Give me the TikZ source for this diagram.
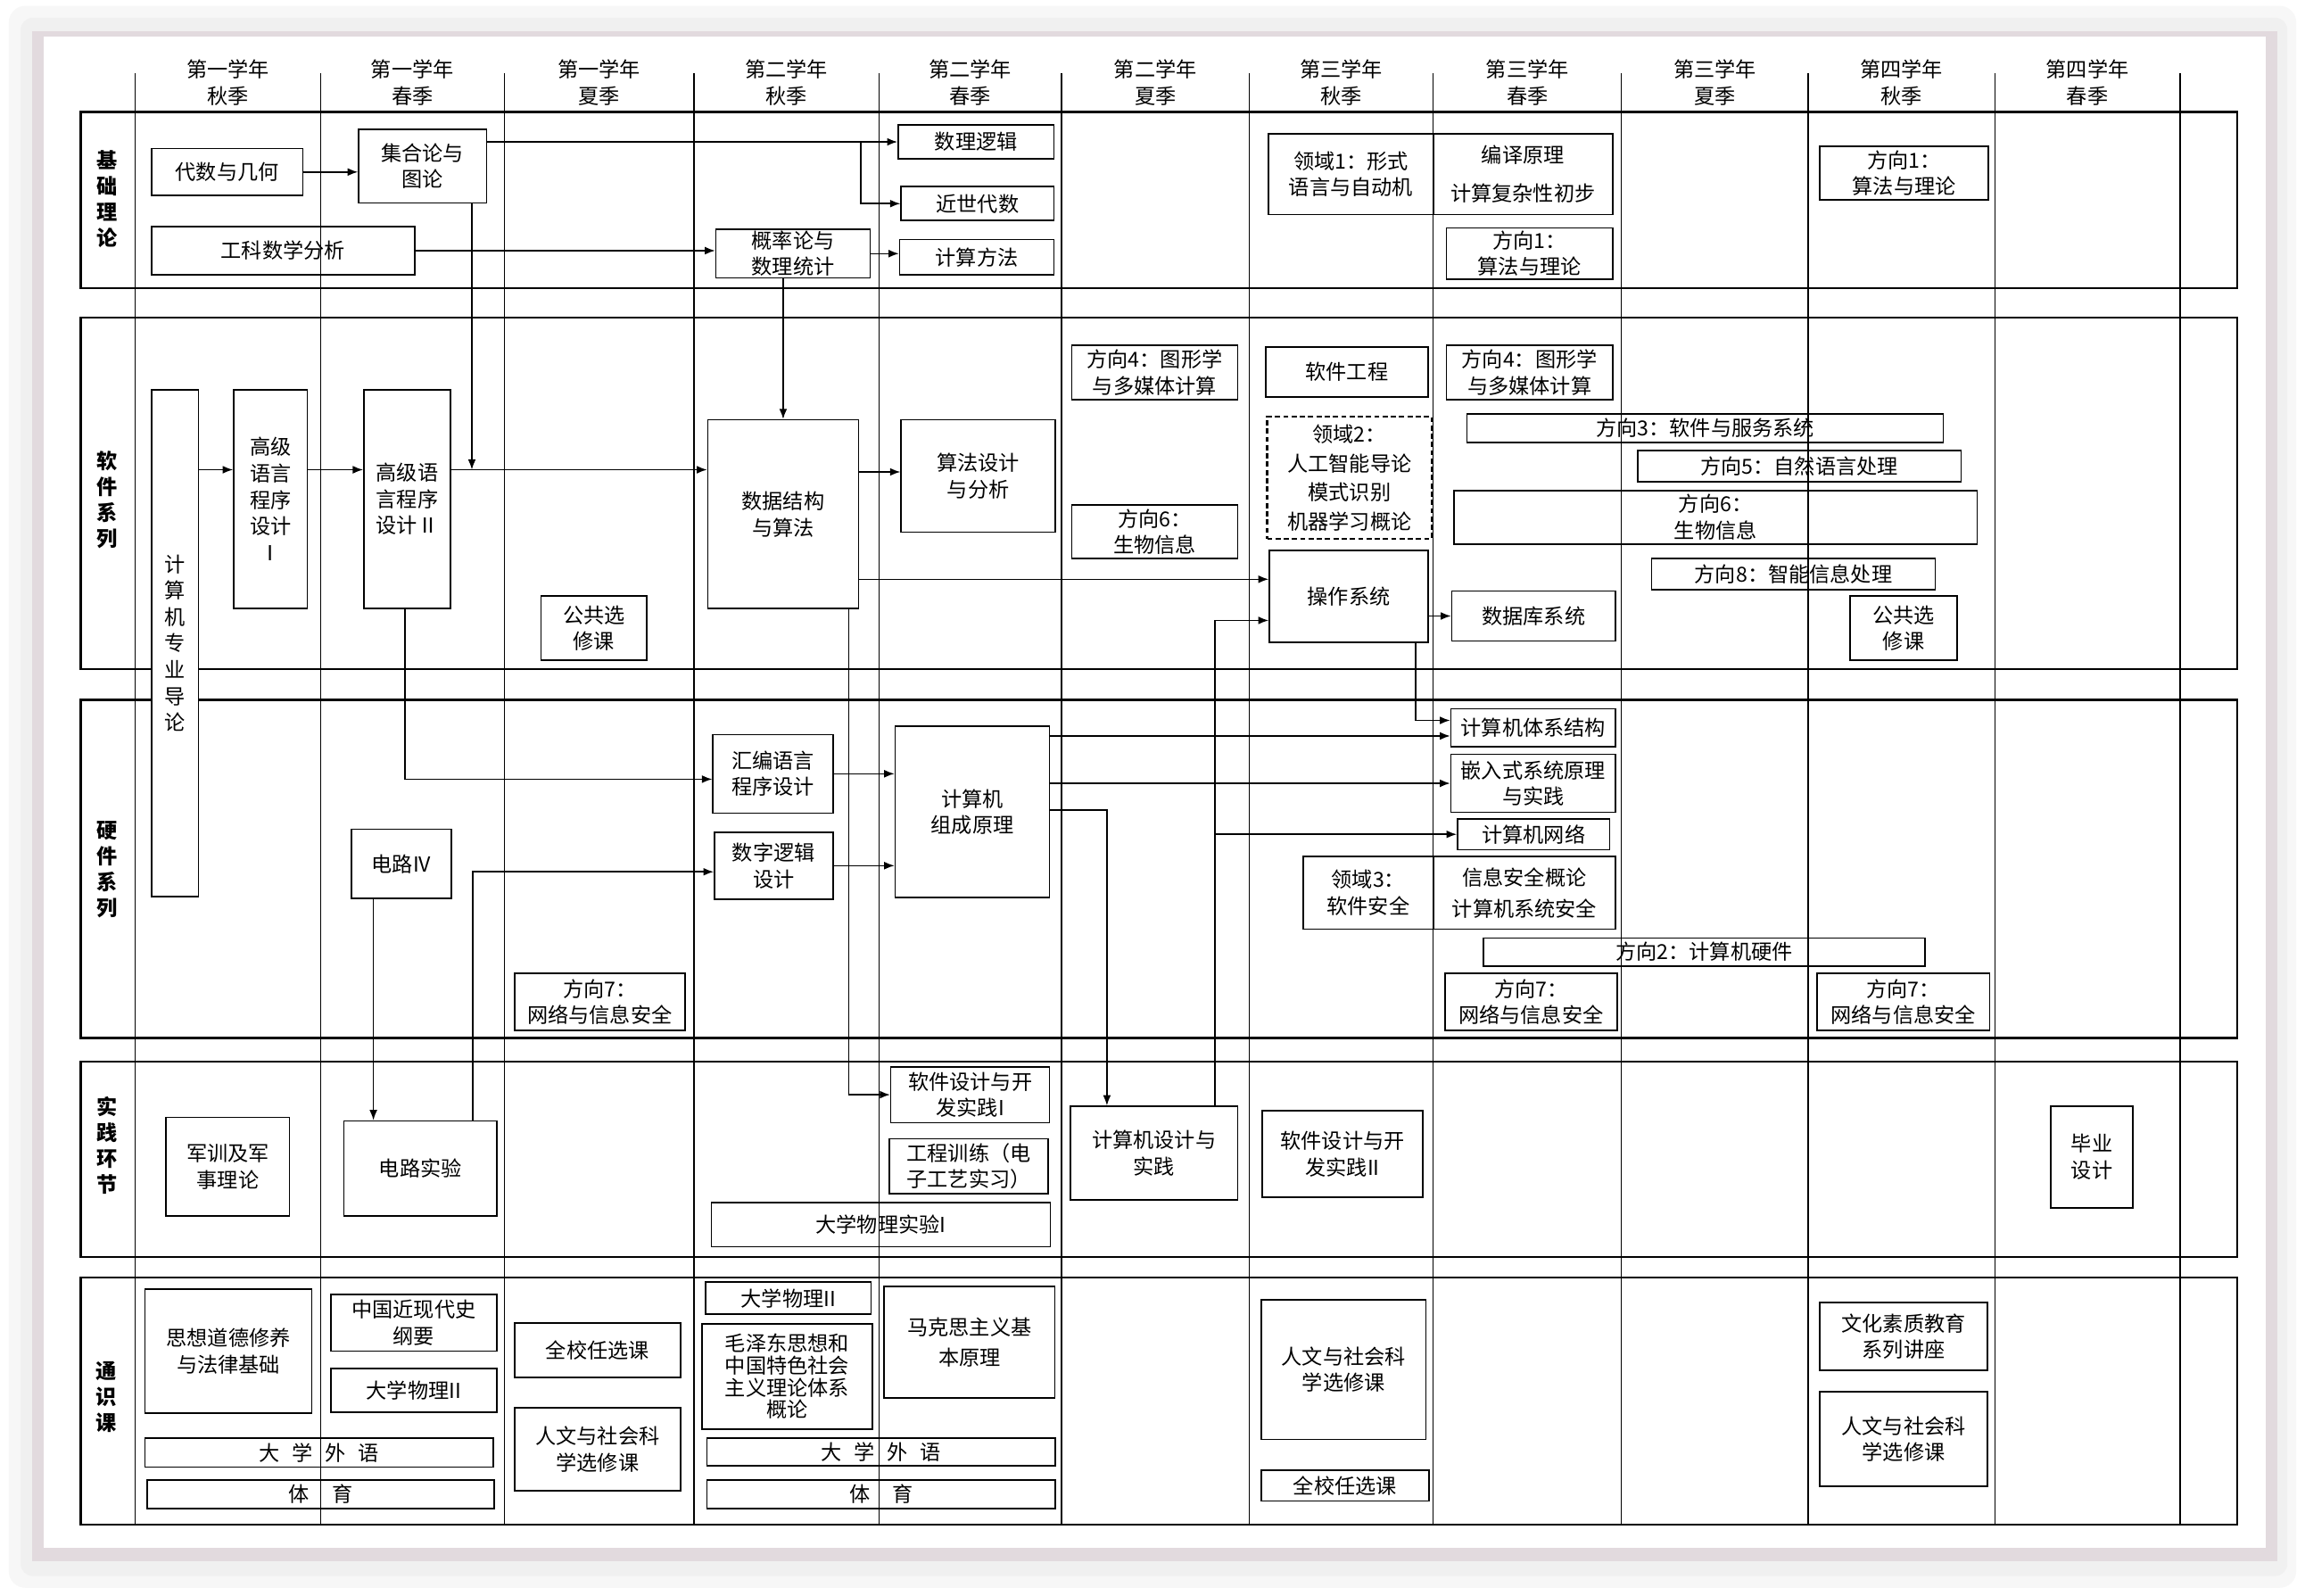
\documentclass[tikz,border=0pt]{standalone}
\usepackage{fontspec}
\setmainfont{Noto Sans CJK SC}
\usetikzlibrary{arrows.meta}
\definecolor{pageedge}{RGB}{226,218,222}

\begin{document}
\begin{tikzpicture}[x=0.025cm, y=-0.025cm, >={Latex[length=5pt,width=3.8pt]},
  every node/.style={font=\fontsize{10}{12.8}\selectfont},
  course/.style 2 args={draw, fill=white, line width=0.7pt, inner sep=0pt, align=center,
    minimum width=#1*0.025cm, minimum height=#2*0.025cm},
  sect/.style={line width=1.1pt},
  colline/.style={line width=0.6pt},
  link/.style={->, line width=0.65pt},
  head/.style={align=center},
  rowlabel/.style={align=center, font=\fontsize{10}{12.5}\selectfont\bfseries}]

\useasboundingbox (0,0) rectangle (1568,1085);
\fill[white] (0,0) rectangle (1568,1085);
\fill[gray!6, rounded corners=8] (6,4) rectangle (1562,1080);
\fill[gray!12, rounded corners=6] (14,12) rectangle (1556,1072);
\fill[pageedge] (22,21) rectangle (1549,1062);
\fill[white] (30,25) rectangle (1541,1053);

% rows
\draw[sect] (55,76) rectangle (1522,196);
\draw[sect] (55,216) rectangle (1522,455);
\draw[sect] (55,476) rectangle (1522,706);
\draw[sect] (55,722) rectangle (1522,855);
\draw[sect] (55,869) rectangle (1522,1037);

% basic theory
\draw (154.5,117) node (Alg) [course={103}{32}] {代数与几何};
\draw (287.5,113) node (SetG) [course={87}{50}] {集合论与\\图论};
\draw (192.5,170.5) node (Ana) [course={179}{33}] {工科数学分析};
\draw (539.5,172.5) node (Prob) [course={105}{33}] {概率论与\\数理统计};
\draw (664,96.5) node (Logic) [course={106}{23}] {数理逻辑};
\draw (665,138.5) node (AbsAlg) [course={104}{23}] {近世代数};
\draw (664.5,175) node (Numer) [course={105}{24}] {计算方法};
\draw (919,118.5) node (DomA) [course={112}{55}] {领域1：形式\\语言与自动机};
\draw (1036,118.5) node (Comp) [course={122}{55}] {编译原理\\[5.5pt]计算复杂性初步};
\draw (1040.5,172.5) node (DirA) [course={113}{35}] {方向1：\\算法与理论};
\draw (1295.3,117.75) node (DirB) [course={114.6}{36.5}] {方向1：\\算法与理论};

% software
\draw (119,437.5) node (Intro) [course={32}{345}] {计\\算\\机\\专\\业\\导\\论};
\draw (184,339.5) node (HllA) [course={50}{149}] {高级\\语言\\程序\\设计\\Ⅰ};
\draw (277,339.5) node (HllB) [course={59}{149}] {高级语\\言程序\\设计Ⅱ};
\draw (532.75,349.8) node (DS) [course={102.5}{128.4}] {数据结构\\与算法};
\draw (665.5,323.8) node (AlgD) [course={105}{76.4}] {算法设计\\与分析};
\draw (785.5,253.5) node (DirC) [course={113}{37}] {方向4：图形学\\与多媒体计算};
\draw (785.5,361.75) node (DirD) [course={113}{36.5}] {方向6：\\生物信息};
\draw (916.25,253) node (SE) [course={110.5}{34}] {软件工程};
\draw (918,325) node (DomB) [course={112}{83}, dash pattern=on 2.5pt off 1.5pt, line width=1pt]
  {领域2：\\[1.2pt]人工智能导论\\[1.2pt]模式识别\\[1.2pt]机器学习概论};
\draw (917.5,405.75) node (OS) [course={108}{62.5}] {操作系统};
\draw (1040.5,253.5) node (DirE) [course={113}{37}] {方向4：图形学\\与多媒体计算};
\draw (1160,291.3) node (DirF) [course={324}{19.4}] {方向3：软件与服务系统};
\draw (1224,317.1) node (DirG) [course={220}{21.2}] {方向5：自然语言处理};
\draw (1167,351.85) node (DirH) [course={356}{36.3}] {方向6：\\生物信息};
\draw (1220,390.5) node (DirI) [course={193}{21}] {方向8：智能信息处理};
\draw (1043.3,419) node (DB) [course={111.4}{34}] {数据库系统};
\draw (404,427.25) node (PubA) [course={72}{43.5}] {公共选\\修课};
\draw (1295,427.25) node (PubB) [course={73}{43.5}] {公共选\\修课};

% hardware
\draw (1043,495) node (Arch) [course={112}{26}] {计算机体系结构};
\draw (1043,532.8) node (Emb) [course={112}{39.6}] {嵌入式系统原理\\与实践};
\draw (1043.25,567.5) node (Net) [course={103.5}{21}] {计算机网络};
\draw (930.8,607.25) node (DomC) [course={88.4}{49.5}] {领域3：\\软件安全};
\draw (1037,607.25) node (Sec) [course={124}{49.5}] {信息安全概论\\[2.3pt]计算机系统安全};
\draw (1159.3,647.5) node (DirJ) [course={300.6}{19}] {方向2：计算机硬件};
\draw (408,681.5) node (DirK) [course={116}{39}] {方向7：\\网络与信息安全};
\draw (1041.5,681.5) node (DirL) [course={117}{39}] {方向7：\\网络与信息安全};
\draw (1294.75,681.5) node (DirM) [course={117.5}{39}] {方向7：\\网络与信息安全};
\draw (273,587.5) node (CircA) [course={68}{47}] {电路IV};
\draw (525.8,526.3) node (Asm) [course={81.6}{53.4}] {汇编语言\\程序设计};
\draw (526.3,588.8) node (Dig) [course={80.6}{45.6}] {数字逻辑\\设计};
\draw (661.5,552.25) node (Org) [course={105}{116.5}] {计算机\\组成原理};

% practice
\draw (155,793.5) node (Mil) [course={84}{67}] {军训及军\\事理论};
\draw (286,794.75) node (CircB) [course={104}{64.5}] {电路实验};
\draw (660,744.6) node (SwpA) [course={108}{38}] {软件设计与开\\发实践I};
\draw (659,793.3) node (EngT) [course={108}{37.4}] {工程训练（电\\子工艺实习）};
\draw (599.2,833) node (PhyE) [course={230.4}{30}] {大学物理实验I};
\draw (785,784.25) node (CDP) [course={114}{63.5}] {计算机设计与\\实践};
\draw (913.3,785) node (SwpB) [course={109.4}{58.9}] {软件设计与开\\发实践II};
\draw (1423,787) node (Grad) [course={56}{69.3}] {毕业\\设计};

% general courses
\draw (155.35,919) node (Moral) [course={113.3}{84}] {思想道德修养\\与法律基础};
\draw (281.5,899.75) node (Hist) [course={113}{38.5}] {中国近现代史\\纲要};
\draw (281.5,945.75) node (PhyA) [course={113}{29.5}] {大学物理II};
\draw (217.2,988) node (LangA) [course={237}{20}] {大\hspace{6pt}学\hspace{6pt}外\hspace{6pt}语};
\draw (218,1016.3) node (PEA) [course={236}{19.4}] {体\hspace{11pt}育};
\draw (406.5,918.5) node (ElecA) [course={113}{37}] {全校任选课};
\draw (406.5,985.85) node (HumA) [course={113}{56.3}] {人文与社会科\\学选修课};
\draw (536.3,883) node (PhyB) [course={112.6}{22}] {大学物理II};
\draw (535.45,936.3) node (Mao) [course={115.9}{71.4}, font=\fontsize{10}{10.6}\selectfont]
  {毛泽东思想和\\中国特色社会\\主义理论体系\\概论};
\draw (599.5,987.5) node (LangB) [course={237}{19}] {大\hspace{6pt}学\hspace{6pt}外\hspace{6pt}语};
\draw (599.5,1016.3) node (PEB) [course={237}{19.4}] {体\hspace{11pt}育};
\draw (659.5,913) node (Marx) [course={116}{76}] {马克思主义基\\[2pt]本原理};
\draw (914,931.5) node (HumB) [course={112}{95}] {人文与社会科\\学选修课};
\draw (915,1010.5) node (ElecB) [course={114}{21}] {全校任选课};
\draw (1295,909) node (Cult) [course={114}{46}] {文化素质教育\\系列讲座};
\draw (1295,978.8) node (HumC) [course={114}{64.4}] {人文与社会科\\学选修课};

% semester columns
\draw[colline] (92,50) -- (92,1037);
\draw[colline] (218,50) -- (218,1037);
\draw[colline] (343,50) -- (343,1037);
\draw[colline] (472,50) -- (472,1037);
\draw[colline] (598,50) -- (598,1037);
\draw[colline] (722,50) -- (722,1037);
\draw[colline] (850,50) -- (850,1037);
\draw[colline] (975,50) -- (975,1037);
\draw[colline] (1103,50) -- (1103,1037);
\draw[colline] (1230,50) -- (1230,1037);
\draw[colline] (1357,50) -- (1357,1037);
\draw[colline] (1483,50) -- (1483,1037);

\draw (155,56) node (HdA) [head] {第一学年\\秋季};
\draw (280.5,56) node (HdB) [head] {第一学年\\春季};
\draw (407.5,56) node (HdC) [head] {第一学年\\夏季};
\draw (535,56) node (HdD) [head] {第二学年\\秋季};
\draw (660,56) node (HdE) [head] {第二学年\\春季};
\draw (786,56) node (HdF) [head] {第二学年\\夏季};
\draw (912.5,56) node (HdG) [head] {第三学年\\秋季};
\draw (1039,56) node (HdH) [head] {第三学年\\春季};
\draw (1166.5,56) node (HdI) [head] {第三学年\\夏季};
\draw (1293.5,56) node (HdJ) [head] {第四学年\\秋季};
\draw (1420,56) node (HdK) [head] {第四学年\\春季};

\draw (73,135.5) node (SecA) [rowlabel] {基\\础\\理\\论};
\draw (73,340) node (SecB) [rowlabel] {软\\件\\系\\列};
\draw (73,591.5) node (SecC) [rowlabel] {硬\\件\\系\\列};
\draw (73,779) node (SecD) [rowlabel] {实\\践\\环\\节};
\draw (72,950) node (SecE) [rowlabel] {通\\识\\课};

% prerequisites
\coordinate (RowA) at (0,319.5);
\coordinate (RowB) at (0,321);
\coordinate (RowC) at (0,394);
\coordinate (RowD) at (0,500.6);
\coordinate (BrA) at (585.6,96.5);
\coordinate (DropA) at (321,319.5);
\coordinate (UpA) at (826.6,422);
\coordinate (DropB) at (963,490);
\coordinate (TurnA) at (753,551);
\coordinate (DropC) at (577.4,746);
\coordinate (DropD) at (275.4,530);
\coordinate (UpB) at (321.6,593);
\coordinate (DropE) at (254,0);

\draw[link] (Alg.east) -- (Alg.east -| SetG.west);
\draw[link] (SetG.east |- Logic) -- (Logic.west);
\draw[link] (BrA) |- (AbsAlg.west);
\draw[link] (SetG.south -| DropA) -- (DropA);
\draw[link] (Ana.east) -- (Ana.east -| Prob.west);
\draw[link] (Prob.east) -- (Prob.east -| Numer.west);
\draw[link] (Prob.south -| DS.north) -- (DS.north);

\draw[link] (Intro.east |- RowA) -- (HllA.west |- RowA);
\draw[link] (HllA.east |- RowA) -- (HllB.west |- RowA);
\draw[link] (HllB.east |- RowA) -- (DS.west |- RowA);
\draw[link] (DS.east |- RowB) -- (AlgD.west |- RowB);
\draw[link] (DS.east |- RowC) -- (OS.west |- RowC);
\draw[link] (CDP.north -| UpA) |- (OS.west |- UpA);
\draw[link] (UpA |- Net) -- (Net.west);
\draw[link] (OS.east |- DB) -- (DB.west);
\draw[link] (OS.south -| DropB) |- (Arch.west |- DropB);

\draw[link] (Org.east |- RowD) -- (Arch.west |- RowD);
\draw[link] (Org.east |- Emb) -- (Emb.west);
\draw[link] (Org.east |- TurnA) -| (CDP.north -| TurnA);
\draw[link] (DS.south -| DropC) |- (SwpA.west);
\draw[link] (HllB.south -| DropD) |- (Asm.west |- DropD);
\draw[link] (Asm.east) -- (Asm.east -| Org.west);
\draw[link] (Dig.east) -- (Dig.east -| Org.west);
\draw[link] (CircB.north -| UpB) |- (Dig.west |- UpB);
\draw[link] (CircA.south -| DropE) -- (CircB.north -| DropE);

\end{tikzpicture}
\end{document}
